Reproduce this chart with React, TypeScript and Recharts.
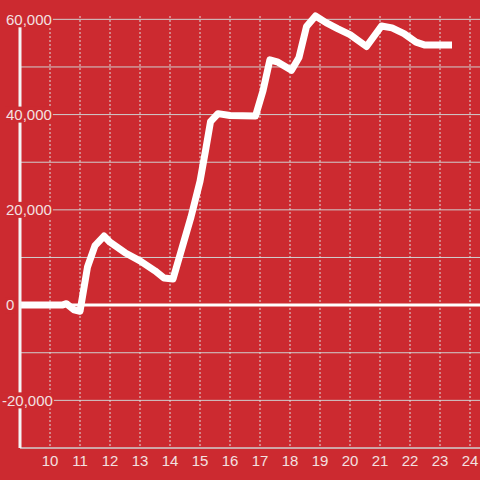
import React from 'react';
import { LineChart, Line, XAxis, YAxis, CartesianGrid, ReferenceLine } from 'recharts';

const hours = [9.0, 10.0, 10.4, 10.55, 10.8, 11.0, 11.25, 11.5, 11.8, 12.0, 12.5, 13.0, 13.5, 13.8, 14.1, 14.4, 14.7, 15.0, 15.2, 15.35, 15.6, 16.0, 16.85, 17.1, 17.33, 17.6, 18.05, 18.3, 18.55, 18.85, 19.2, 19.6, 20.0, 20.55, 21.05, 21.4, 21.8, 22.2, 22.5, 23.4];
const values = [0, 0, 0, 300, -1000, -1300, 8000, 12500, 14500, 13200, 11000, 9300, 7200, 5700, 5500, 12000, 18500, 26000, 33000, 38500, 40200, 39800, 39700, 45000, 51500, 51000, 49300, 52000, 58500, 60700, 59300, 58000, 56800, 54300, 58600, 58200, 57000, 55200, 54600, 54600];
const xTicks = [10, 11, 12, 13, 14, 15, 16, 17, 18, 19, 20, 21, 22, 23, 24];
const yTicks = [-30000, -20000, -10000, 0, 10000, 20000, 30000, 40000, 50000, 60000];
const yLabelled = [-20000, 0, 20000, 40000, 60000];

const BG = '#cc2a30';
const TEXT = '#f3e0e0';
const FONT = '"Liberation Sans", Arial, sans-serif';

const data = hours.map((h, i) => ({ h, v: values[i] }));

const textWidth = (s: string) => {
  let w = 0;
  for (const c of s) {
    if (c === ',') w += 4.17;
    else if (c === '-') w += 5.0;
    else w += 8.34;
  }
  return w;
};

const YTick = (props: any) => {
  const { y, payload } = props;
  const v = payload.value;
  if (!yLabelled.includes(v)) return <g />;
  const label = v.toLocaleString('en-US');
  const w = textWidth(label);
  const x0 = v < 0 ? 2 : 6;
  return (
    <g>
      <rect x={x0 - 1} y={y - 8} width={w + 2} height={16} fill={BG} />
      <text x={x0} y={y} dy="0.355em" textAnchor="start" fill={TEXT} fontSize={15} fontFamily={FONT}>
        {label}
      </text>
    </g>
  );
};

export default function App() {
  return (
    <div style={{ position: 'absolute', left: 0, top: 0, width: 480, height: 480, background: BG }}>
      <LineChart width={480} height={480} data={data} margin={{ top: 16, right: 0, left: 0, bottom: 0 }}>
        <CartesianGrid vertical={false} horizontalValues={yTicks} stroke="#cfcfcf" strokeWidth={1} />
        <CartesianGrid horizontal={false} verticalValues={xTicks} stroke="#dddddd" strokeDasharray="2 2" strokeWidth={1} />
        <XAxis
          dataKey="h"
          type="number"
          domain={[9, 24.333]}
          ticks={xTicks}
          allowDataOverflow
          height={32}
          tickLine={false}
          tickSize={0}
          tickMargin={7}
          axisLine={{ stroke: '#cfcfcf', strokeWidth: 1 }}
          tick={{ fill: TEXT, fontSize: 15, fontFamily: FONT }}
          interval={0}
        />
        <YAxis
          type="number"
          domain={[-30000, 60000]}
          ticks={yTicks}
          width={20}
          tickLine={false}
          tickSize={0}
          tickMargin={0}
          axisLine={{ stroke: '#f4f4f4', strokeWidth: 3 }}
          tick={<YTick />}
          interval={0}
        />
        <ReferenceLine y={0} stroke="#ffffff" strokeWidth={3} />
        <Line
          dataKey="v"
          type="linear"
          stroke="#ffffff"
          strokeWidth={7}
          dot={false}
          strokeLinejoin="round"
          isAnimationActive={false}
        />
      </LineChart>
    </div>
  );
}
